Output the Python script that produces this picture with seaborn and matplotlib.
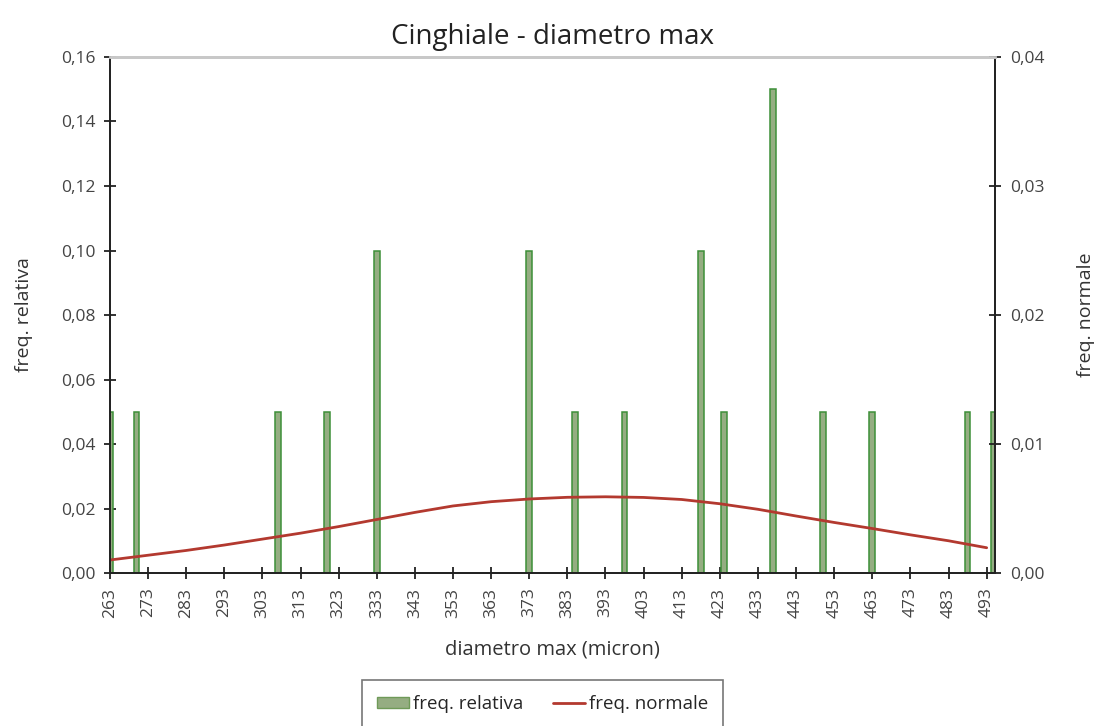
import numpy as np
import pandas as pd
import seaborn as sns
import matplotlib.pyplot as plt
from matplotlib.patches import Patch
from matplotlib.lines import Line2D
from matplotlib.ticker import FuncFormatter

# relative frequency bars (diameter in micron)
diametro = [263, 270, 307, 320, 333, 373, 385, 398, 418, 424, 437, 450, 463, 488, 495]
freq_relativa = [0.05, 0.05, 0.05, 0.05, 0.10, 0.10, 0.05, 0.05, 0.10, 0.05, 0.15, 0.05, 0.05, 0.05, 0.05]

# normal curve (right axis)
curva_x = [263, 273, 283, 293, 303, 313, 323, 333, 343, 353, 363, 373, 383, 393,
           403, 413, 423, 433, 443, 453, 463, 473, 483, 493]
curva_y = [0.00101, 0.00138, 0.00175, 0.00217, 0.00263, 0.00309, 0.00360, 0.00415,
           0.00470, 0.00520, 0.00553, 0.00574, 0.00587, 0.00591, 0.00586, 0.00570,
           0.00537, 0.00494, 0.00442, 0.00392, 0.00345, 0.00296, 0.00250, 0.00196]

xticks = list(range(263, 494, 10))

sns.set_style("white")
plt.rcParams['font.family'] = ['Open Sans', 'DejaVu Sans']

fig = plt.figure(figsize=(11.05, 7.26), dpi=100)
ax = fig.add_axes([0.0995, 0.2107, 0.801, 0.7108])

bar_face = '#95ad82'
bar_edge = '#3d8f38'
line_col = '#b3392f'

bars = pd.DataFrame({'d': diametro, 'f': freq_relativa})
sns.barplot(data=bars, x='d', y='f', native_scale=True, width=0.25,
            color=bar_face, edgecolor=bar_edge, linewidth=1.1, saturation=1, ax=ax)

ax2 = ax.twinx()
sns.lineplot(x=curva_x, y=curva_y, color=line_col, linewidth=2, ax=ax2)

ax.set_xlim(263, 495.2)
ax.set_ylim(0, 0.16)
ax2.set_ylim(0, 0.04)
ax.set_yticks(np.arange(0, 0.161, 0.02))
ax2.set_yticks(np.arange(0, 0.041, 0.01))
ax.set_xticks(xticks)
ax.set_xticklabels([str(t) for t in xticks], rotation=90)

comma2 = FuncFormatter(lambda v, p: f"{v:.2f}".replace('.', ','))
ax.yaxis.set_major_formatter(comma2)
ax2.yaxis.set_major_formatter(comma2)

for a in (ax, ax2):
    for s in ('left', 'right', 'bottom'):
        a.spines[s].set_color('#222222')
        a.spines[s].set_linewidth(1.3)
    a.spines['top'].set_color('#c8c8c8')
    a.spines['top'].set_linewidth(2)
    a.tick_params(axis='both', direction='inout', length=9, width=1.3,
                  color='#222222', labelsize=12.5, labelcolor='#444444', pad=6)
ax.tick_params(left=True, bottom=True)
ax2.tick_params(right=True)

ax.set_xlabel('diametro max (micron)', fontsize=14.5, color='#333333', labelpad=16)
ax.set_ylabel('freq. relativa', fontsize=14, color='#333333', labelpad=20)
ax2.set_ylabel('freq. normale', fontsize=14, color='#333333', labelpad=24)
ax.set_title('Cinghiale - diametro max', fontsize=20, color='#222222', pad=9)

handles = [Patch(facecolor=bar_face, edgecolor='#6f9a58'),
           Line2D([0], [0], color=line_col, linewidth=2)]
leg = fig.legend(handles, ['freq. relativa', 'freq. normale'], loc='center',
                 bbox_to_anchor=(0.491, 0.03), ncol=2, frameon=True, fancybox=False,
                 fontsize=13.5, handlelength=1.7, handleheight=0.5, handletextpad=0.2,
                 columnspacing=1.6, borderpad=0.8, borderaxespad=0)
leg.get_frame().set_edgecolor('#555555')
leg.get_frame().set_linewidth(1.2)

fig.savefig('out.png', dpi=100)
